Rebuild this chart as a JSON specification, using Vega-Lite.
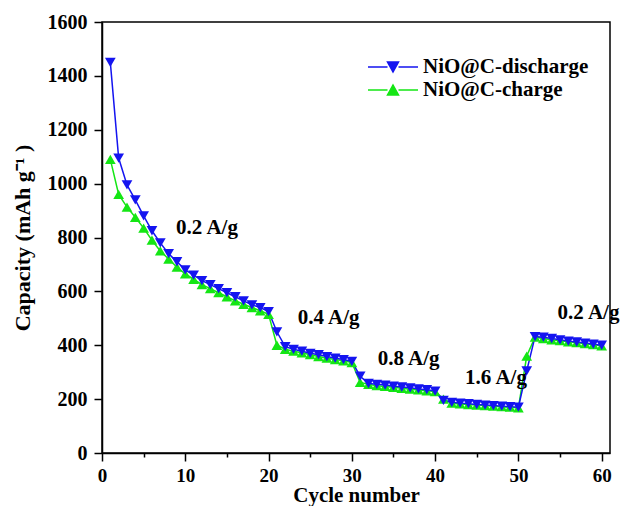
{
  "$schema": "https://vega.github.io/schema/vega-lite/v6.json",
  "width": 508,
  "height": 431,
  "autosize": {"type": "none"},
  "padding": {"left": 102, "top": 22, "right": 21, "bottom": 53},
  "config": {
    "view": {"stroke": "black", "strokeWidth": 1.5},
    "font": "Liberation Serif",
    "axis": {
      "labelFont": "Liberation Serif", "labelFontWeight": "bold", "labelFontSize": 20, "labelColor": "black",
      "titleFont": "Liberation Serif", "titleFontWeight": "bold", "titleFontSize": 22, "titleColor": "black",
      "domainColor": "black", "domainWidth": 1.5, "tickColor": "black", "tickWidth": 1.5, "grid": false
    }
  },
  "datasets": {
    "cap": [
      {"c":1,"s":"NiO@C-charge","v":1090},{"c":2,"s":"NiO@C-charge","v":960},{"c":3,"s":"NiO@C-charge","v":913},{"c":4,"s":"NiO@C-charge","v":875},{"c":5,"s":"NiO@C-charge","v":835},{"c":6,"s":"NiO@C-charge","v":790},{"c":7,"s":"NiO@C-charge","v":750},{"c":8,"s":"NiO@C-charge","v":720},{"c":9,"s":"NiO@C-charge","v":690},{"c":10,"s":"NiO@C-charge","v":665},
      {"c":11,"s":"NiO@C-charge","v":645},{"c":12,"s":"NiO@C-charge","v":625},{"c":13,"s":"NiO@C-charge","v":610},{"c":14,"s":"NiO@C-charge","v":595},{"c":15,"s":"NiO@C-charge","v":580},{"c":16,"s":"NiO@C-charge","v":565},{"c":17,"s":"NiO@C-charge","v":552},{"c":18,"s":"NiO@C-charge","v":540},{"c":19,"s":"NiO@C-charge","v":528},{"c":20,"s":"NiO@C-charge","v":515},
      {"c":21,"s":"NiO@C-charge","v":400},{"c":22,"s":"NiO@C-charge","v":385},{"c":23,"s":"NiO@C-charge","v":378},{"c":24,"s":"NiO@C-charge","v":372},{"c":25,"s":"NiO@C-charge","v":365},{"c":26,"s":"NiO@C-charge","v":358},{"c":27,"s":"NiO@C-charge","v":352},{"c":28,"s":"NiO@C-charge","v":347},{"c":29,"s":"NiO@C-charge","v":342},{"c":30,"s":"NiO@C-charge","v":336},
      {"c":31,"s":"NiO@C-charge","v":262},{"c":32,"s":"NiO@C-charge","v":255},{"c":33,"s":"NiO@C-charge","v":250},{"c":34,"s":"NiO@C-charge","v":247},{"c":35,"s":"NiO@C-charge","v":244},{"c":36,"s":"NiO@C-charge","v":240},{"c":37,"s":"NiO@C-charge","v":237},{"c":38,"s":"NiO@C-charge","v":234},{"c":39,"s":"NiO@C-charge","v":231},{"c":40,"s":"NiO@C-charge","v":228},
      {"c":41,"s":"NiO@C-charge","v":200},{"c":42,"s":"NiO@C-charge","v":185},{"c":43,"s":"NiO@C-charge","v":182},{"c":44,"s":"NiO@C-charge","v":180},{"c":45,"s":"NiO@C-charge","v":178},{"c":46,"s":"NiO@C-charge","v":176},{"c":47,"s":"NiO@C-charge","v":174},{"c":48,"s":"NiO@C-charge","v":172},{"c":49,"s":"NiO@C-charge","v":170},{"c":50,"s":"NiO@C-charge","v":168},
      {"c":51,"s":"NiO@C-charge","v":360},{"c":52,"s":"NiO@C-charge","v":430},{"c":53,"s":"NiO@C-charge","v":425},{"c":54,"s":"NiO@C-charge","v":420},{"c":55,"s":"NiO@C-charge","v":417},{"c":56,"s":"NiO@C-charge","v":413},{"c":57,"s":"NiO@C-charge","v":410},{"c":58,"s":"NiO@C-charge","v":406},{"c":59,"s":"NiO@C-charge","v":402},{"c":60,"s":"NiO@C-charge","v":398},
      {"c":1,"s":"NiO@C-discharge","v":1450},{"c":2,"s":"NiO@C-discharge","v":1095},{"c":3,"s":"NiO@C-discharge","v":995},{"c":4,"s":"NiO@C-discharge","v":940},{"c":5,"s":"NiO@C-discharge","v":880},{"c":6,"s":"NiO@C-discharge","v":825},{"c":7,"s":"NiO@C-discharge","v":780},{"c":8,"s":"NiO@C-discharge","v":740},{"c":9,"s":"NiO@C-discharge","v":710},{"c":10,"s":"NiO@C-discharge","v":680},
      {"c":11,"s":"NiO@C-discharge","v":660},{"c":12,"s":"NiO@C-discharge","v":640},{"c":13,"s":"NiO@C-discharge","v":625},{"c":14,"s":"NiO@C-discharge","v":610},{"c":15,"s":"NiO@C-discharge","v":595},{"c":16,"s":"NiO@C-discharge","v":580},{"c":17,"s":"NiO@C-discharge","v":565},{"c":18,"s":"NiO@C-discharge","v":550},{"c":19,"s":"NiO@C-discharge","v":540},{"c":20,"s":"NiO@C-discharge","v":525},
      {"c":21,"s":"NiO@C-discharge","v":450},{"c":22,"s":"NiO@C-discharge","v":395},{"c":23,"s":"NiO@C-discharge","v":385},{"c":24,"s":"NiO@C-discharge","v":378},{"c":25,"s":"NiO@C-discharge","v":370},{"c":26,"s":"NiO@C-discharge","v":365},{"c":27,"s":"NiO@C-discharge","v":358},{"c":28,"s":"NiO@C-discharge","v":352},{"c":29,"s":"NiO@C-discharge","v":347},{"c":30,"s":"NiO@C-discharge","v":340},
      {"c":31,"s":"NiO@C-discharge","v":285},{"c":32,"s":"NiO@C-discharge","v":258},{"c":33,"s":"NiO@C-discharge","v":255},{"c":34,"s":"NiO@C-discharge","v":252},{"c":35,"s":"NiO@C-discharge","v":248},{"c":36,"s":"NiO@C-discharge","v":245},{"c":37,"s":"NiO@C-discharge","v":242},{"c":38,"s":"NiO@C-discharge","v":238},{"c":39,"s":"NiO@C-discharge","v":235},{"c":40,"s":"NiO@C-discharge","v":230},
      {"c":41,"s":"NiO@C-discharge","v":195},{"c":42,"s":"NiO@C-discharge","v":188},{"c":43,"s":"NiO@C-discharge","v":185},{"c":44,"s":"NiO@C-discharge","v":183},{"c":45,"s":"NiO@C-discharge","v":180},{"c":46,"s":"NiO@C-discharge","v":178},{"c":47,"s":"NiO@C-discharge","v":176},{"c":48,"s":"NiO@C-discharge","v":174},{"c":49,"s":"NiO@C-discharge","v":172},{"c":50,"s":"NiO@C-discharge","v":170},
      {"c":51,"s":"NiO@C-discharge","v":305},{"c":52,"s":"NiO@C-discharge","v":432},{"c":53,"s":"NiO@C-discharge","v":430},{"c":54,"s":"NiO@C-discharge","v":425},{"c":55,"s":"NiO@C-discharge","v":420},{"c":56,"s":"NiO@C-discharge","v":415},{"c":57,"s":"NiO@C-discharge","v":412},{"c":58,"s":"NiO@C-discharge","v":408},{"c":59,"s":"NiO@C-discharge","v":404},{"c":60,"s":"NiO@C-discharge","v":400}
    ],
    "labels": [
      {"t":"0.2 A/g","x":8.9,"y":835},
      {"t":"0.4 A/g","x":23.5,"y":501},
      {"t":"0.8 A/g","x":33.1,"y":349},
      {"t":"1.6 A/g","x":43.6,"y":278},
      {"t":"0.2 A/g","x":54.7,"y":520}
    ]
  },
  "layer": [
    {
      "data": {"name": "cap"},
      "mark": {"type": "line", "strokeWidth": 1.5},
      "encoding": {
        "x": {"field": "c", "type": "quantitative",
          "scale": {"domain": [0, 61], "nice": false},
          "axis": {"title": "Cycle number", "titlePadding": -1, "titleFontSize": 21,
            "values": [0,5,10,15,20,25,30,35,40,45,50,55,60],
            "labelExpr": "datum.value % 10 === 0 ? datum.label : ''",
            "tickSize": {"condition": {"test": "datum.value % 10 === 0", "value": 8}, "value": 4},
            "labelPadding": 5, "labelFontSize": 19, "labelFlush": false}},
        "y": {"field": "v", "type": "quantitative",
          "scale": {"domain": [0, 1600], "nice": false},
          "axis": {"title": "Capacity (mAh g⁻¹ )", "titlePadding": 13,
            "values": [0,100,200,300,400,500,600,700,800,900,1000,1100,1200,1300,1400,1500,1600],
            "labelExpr": "datum.value % 200 === 0 ? datum.label : ''",
            "tickSize": {"condition": {"test": "datum.value % 200 === 0", "value": 8}, "value": 4},
            "labelPadding": 7, "format": "d"}},
        "color": {"field": "s", "type": "nominal",
          "scale": {"domain": ["NiO@C-discharge", "NiO@C-charge"], "range": ["#1414f0", "#14e614"]},
          "legend": {
            "title": null, "orient": "none", "legendX": 280, "legendY": 34, "padding": 0,
            "labelFont": "Liberation Serif", "labelFontWeight": "bold", "labelFontSize": 21, "labelColor": "black", "labelLimit": 0,
            "symbolSize": 400, "symbolStrokeWidth": 1.5, "labelOffset": 19, "rowPadding": 2,
            "encode": {"symbols": {"update": {
              "shape": {"signal": "datum.value === 'NiO@C-discharge' ? 'M-2.5,0H-0.55M0.55,0H2.5M-0.55,-0.5L0.55,-0.5L0,0.5Z' : 'M-2.5,0H-0.55M0.55,0H2.5M-0.55,0.5L0.55,0.5L0,-0.5Z'"},
              "stroke": {"signal": "datum.value === 'NiO@C-discharge' ? '#1414f0' : '#14e614'"},
              "fill": {"signal": "datum.value === 'NiO@C-discharge' ? '#1414f0' : '#14e614'"},
              "fillOpacity": {"value": 1},
              "strokeWidth": {"value": 1.5}
            }}}
          }},
        "order": {"field": "c", "type": "quantitative"}
      }
    },
    {
      "data": {"name": "cap"},
      "transform": [{"filter": "datum.s === 'NiO@C-charge'"}],
      "mark": {"type": "point", "filled": true, "opacity": 1, "size": 115, "shape": "triangle-up", "color": "#14e614"},
      "encoding": {
        "x": {"field": "c", "type": "quantitative"},
        "y": {"field": "v", "type": "quantitative"}
      }
    },
    {
      "data": {"name": "cap"},
      "transform": [{"filter": "datum.s === 'NiO@C-discharge'"}],
      "mark": {"type": "point", "filled": true, "opacity": 1, "size": 115, "shape": "triangle-down", "color": "#1414f0"},
      "encoding": {
        "x": {"field": "c", "type": "quantitative"},
        "y": {"field": "v", "type": "quantitative"}
      }
    },
    {
      "data": {"name": "labels"},
      "mark": {"type": "text", "align": "left", "baseline": "middle", "font": "Liberation Serif", "fontWeight": "bold", "fontSize": 21, "color": "black"},
      "encoding": {
        "x": {"field": "x", "type": "quantitative"},
        "y": {"field": "y", "type": "quantitative"},
        "text": {"field": "t"}
      }
    }
  ]
}
